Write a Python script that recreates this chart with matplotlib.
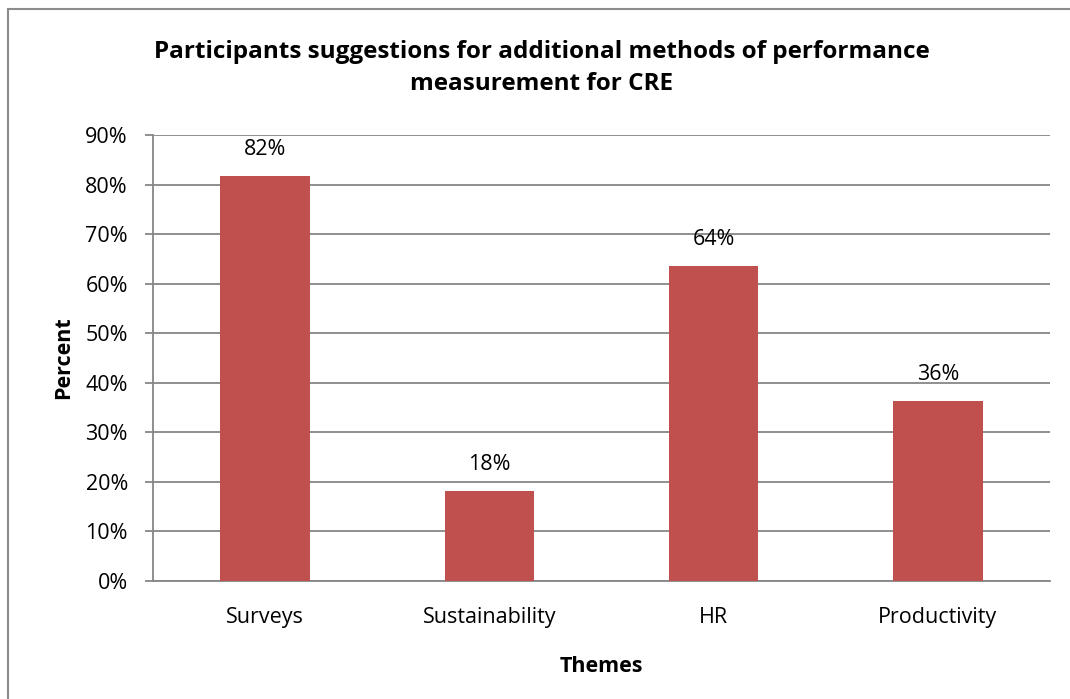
import matplotlib.pyplot as plt
from matplotlib.lines import Line2D
from matplotlib.ticker import PercentFormatter

themes = ['Surveys', 'Sustainability', 'HR', 'Productivity']
percent = [81.8, 18.2, 63.6, 36.4]
labels = ['82%', '18%', '64%', '36%']

plt.rcParams['font.family'] = ['Open Sans', 'DejaVu Sans']

W, H = 1070, 699
fig = plt.figure(figsize=(W / 100, H / 100), dpi=100)
# axes box in pixels: left 153, right 1050, top 135, bottom 581
ax = fig.add_axes([153 / W, 1 - 581 / H, (1050 - 153) / W, (581 - 135) / H])

bar_color = '#C0504D'
grid_color = '#868686'

x = range(len(themes))
ax.bar(x, percent, width=0.40, color=bar_color, zorder=3)

for i, (v, lab) in enumerate(zip(percent, labels)):
    ax.annotate(lab, (i, v), xytext=(0, 19), textcoords='offset points',
                ha='center', va='center', fontsize=15.5, color='black')

ax.set_xlim(-0.5, 3.5)
ax.set_ylim(0, 90)
ax.set_yticks(range(0, 91, 10))
ax.yaxis.set_major_formatter(PercentFormatter(decimals=0))
ax.set_xticks(list(x))
ax.set_xticklabels(themes)
ax.grid(True, axis='y', color=grid_color, linewidth=1.3, zorder=0)

for side in ['top', 'right']:
    ax.spines[side].set_visible(False)
ax.spines['left'].set_color(grid_color)
ax.spines['bottom'].set_color(grid_color)
ax.spines['left'].set_linewidth(1.3)
ax.spines['bottom'].set_linewidth(1.3)
ax.tick_params(axis='y', length=6, width=1.3, color=grid_color, labelsize=15.5, pad=12)
ax.tick_params(axis='x', length=0, labelsize=15.5, pad=19)

ax.set_ylabel('Percent', fontsize=15.5, fontweight='bold', labelpad=8)
ax.set_xlabel('Themes', fontsize=15.5, fontweight='bold', labelpad=20)

fig.text(542 / W, 1 - 68 / H,
         'Participants suggestions for additional methods of performance\nmeasurement for CRE',
         ha='center', va='center', fontsize=17.5, fontweight='bold', linespacing=1.5)

# chart area border (only top and left visible in crop)
fig.add_artist(Line2D([8 / W, 1], [1 - 9 / H, 1 - 9 / H], transform=fig.transFigure,
                      color='#8c8c8c', linewidth=1.5))
fig.add_artist(Line2D([8 / W, 8 / W], [0, 1 - 9 / H], transform=fig.transFigure,
                      color='#8c8c8c', linewidth=1.5))

fig.savefig('out.png', dpi=100)
